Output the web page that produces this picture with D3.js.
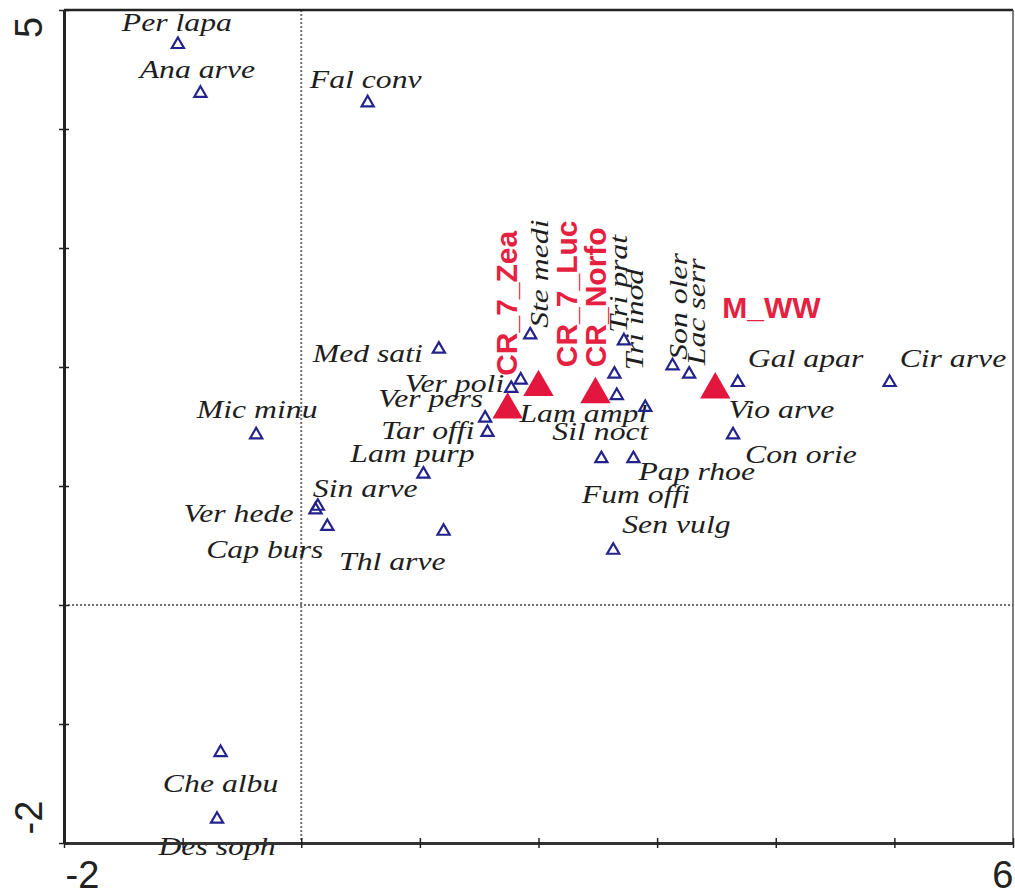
<!DOCTYPE html>
<html lang="en">
<head>
  <meta charset="UTF-8">
  <title>Ordination biplot</title>
  <script src="https://unpkg.com/d3@7/dist/d3.min.js"></script>
  <style>
    body { margin: 0; background: #fff; }
    .sp-label { font-family: "Liberation Serif", "Times New Roman", serif; font-style: italic; font-size: 26px; fill: #1e1e1e; }
    .env-label { font-family: "Liberation Sans", Arial, sans-serif; font-weight: bold; font-size: 30px; fill: #e6203f; }
    .axis text { font-family: "Liberation Sans", Arial, sans-serif; font-size: 38px; fill: #222; }
  </style>
</head>
<body>
  <svg id="chart" width="1015" height="896"></svg>
  <script>
    // species scores (axis 1, axis 2)
    const species = ['Per lapa', 'Ana arve', 'Fal conv', 'Med sati', 'Mic minu', 'Ver poli', '',
      'Ver pers', 'Tar offi', 'Lam purp', 'Sin arve', 'Ver hede', 'Cap burs', 'Thl arve',
      'Ste medi', 'Tri prat', 'Tri inod', 'Fum offi', 'Lam ampl', 'Son oler', 'Lac serr',
      'Gal apar', 'Cir arve', 'Vio arve', 'Con orie', 'Sil noct', 'Pap rhoe', 'Sen vulg',
      'Che albu', 'Des soph'];
    const speciesX = [-1.04, -0.85, 0.56, 1.16, -0.38, 1.77, 1.85,
      1.55, 1.57, 1.03, 0.14, 0.12, 0.22, 1.20,
      1.93, 2.72, 2.64, 2.66, 2.90, 3.13, 3.27,
      3.68, 4.96, 3.50, 3.64, 2.53, 2.80, 2.63,
      -0.68, -0.71];
    const speciesY = [4.71, 4.30, 4.22, 2.15, 1.43, 1.82, 1.89,
      1.57, 1.45, 1.10, 0.83, 0.80, 0.66, 0.62,
      2.27, 2.22, 1.94, 1.76, 1.66, 2.01, 1.94,
      1.87, 1.87, 1.81, 1.43, 1.23, 1.23, 0.46,
      -1.24, -1.80];

    // treatments (supplementary samples)
    const treatments = ['CR_7_Zea', 'CR_7_Luc', 'CR_Norfo', 'M_WW'];
    const treatX = [1.74, 2.00, 2.48, 3.49];
    const treatY = [1.64, 1.83, 1.77, 1.81];

    const xTicks = [-2, -1, 0, 1, 2, 3, 4, 5, 6];
    const yTicks = [-2, -1, 0, 1, 2, 3, 4, 5];
    const xTickLabels = [-2, 6];
    const yTickLabels = [-2, 5];

    // label placement: [anchor, dx, dy] in px from the point, 'rot' = vertical text
    const labelPos = {
      'Per lapa': ['middle', -1, -14], 'Ana arve': ['middle', -3, -15], 'Fal conv': ['middle', -2, -15],
      'Med sati': ['end', -16, 13], 'Mic minu': ['middle', 1, -17], 'Ver poli': ['end', -7, 4],
      'Ver pers': ['end', -2, -11], 'Tar offi': ['end', -13, 7], 'Lam purp': ['middle', -11, -12],
      'Sin arve': ['start', -5, -9], 'Ver hede': ['end', -22, 12], 'Cap burs': ['end', -4, 32],
      'Thl arve': ['end', 2, 39], 'Ste medi': ['rot', 18, -7], 'Tri prat': ['rot', 3, -8],
      'Tri inod': ['rot', 29, -4], 'Fum offi': ['start', -35, 107], 'Lam ampl': ['end', 2, 15],
      'Son oler': ['rot', 14, -6], 'Lac serr': ['rot', 16, -9], 'Gal apar': ['start', 10, -15],
      'Cir arve': ['start', 10, -15], 'Vio arve': ['start', 12, 28], 'Con orie': ['start', 12, 28],
      'Sil noct': ['middle', -1, -19], 'Pap rhoe': ['start', 5, 21], 'Sen vulg': ['start', 9, -17],
      'Che albu': ['middle', 0, 39], 'Des soph': ['middle', 0, 36]
    };
    const treatLabelPos = {
      'CR_7_Zea': ['rot', 9, -34], 'CR_7_Luc': ['rot', 38, -20],
      'CR_Norfo': ['rot', 11, -27], 'M_WW': ['start', 7, -72]
    };

    const svg = d3.select('#chart');
    const x = d3.scaleLinear().domain([-2, 6]).range([64, 1013]);
    const y = d3.scaleLinear().domain([-2, 5]).range([843, 10]);

    // zero lines
    svg.append('line')
      .attr('x1', x(0)).attr('x2', x(0)).attr('y1', y(5)).attr('y2', y(-2))
      .attr('stroke', '#707070').attr('stroke-width', 2).attr('stroke-dasharray', '2,2');
    svg.append('line')
      .attr('x1', x(-2)).attr('x2', x(6)).attr('y1', y(0)).attr('y2', y(0))
      .attr('stroke', '#707070').attr('stroke-width', 2).attr('stroke-dasharray', '2,2');

    const spData = species.map((name, i) => ({ name, x: speciesX[i], y: speciesY[i] }));
    const trData = treatments.map((name, i) => ({ name, x: treatX[i], y: treatY[i] }));

    const smallTri = d3.symbol().type(d3.symbolTriangle).size(64);
    const bigTri = d3.symbol().type(d3.symbolTriangle).size(400);

    const placeLabel = (d, pos, stretch) => {
      const [anchor, dx, dy] = pos;
      const rot = anchor === 'rot' ? ' rotate(-90)' : '';
      return `translate(${x(d.x) + dx}, ${y(d.y) + dy})${rot} scale(${stretch}, 1)`;
    };

    svg.append('g').selectAll('text').data(spData.filter(d => d.name))
      .enter().append('text')
        .attr('class', 'sp-label')
        .attr('text-anchor', d => labelPos[d.name][0] === 'rot' ? 'start' : labelPos[d.name][0])
        .attr('transform', d => placeLabel(d, labelPos[d.name], 1.22))
        .text(d => d.name);

    svg.append('g').selectAll('path').data(spData)
      .enter().append('path')
        .attr('d', smallTri)
        .attr('transform', d => `translate(${x(d.x)}, ${y(d.y)})`)
        .attr('fill', 'none')
        .attr('stroke', '#23238c')
        .attr('stroke-width', 2.2);

    svg.append('g').selectAll('path').data(trData)
      .enter().append('path')
        .attr('d', bigTri)
        .attr('transform', d => `translate(${x(d.x)}, ${y(d.y)})`)
        .attr('fill', '#e3173e');

    svg.append('g').selectAll('text').data(trData)
      .enter().append('text')
        .attr('class', 'env-label')
        .attr('text-anchor', 'start')
        .attr('transform', d => placeLabel(d, treatLabelPos[d.name], 1))
        .text(d => d.name);

    // frame: top and right
    svg.append('line')
      .attr('x1', x(-2)).attr('x2', x(6)).attr('y1', y(5)).attr('y2', y(5))
      .attr('stroke', '#222').attr('stroke-width', 2.5);
    svg.append('line')
      .attr('x1', x(6)).attr('x2', x(6)).attr('y1', y(5)).attr('y2', y(-2))
      .attr('stroke', '#555').attr('stroke-width', 1.5);

    // bottom axis
    const xAxis = d3.axisBottom(x)
      .tickValues(xTicks)
      .tickSize(5)
      .tickSizeOuter(0)
      .tickFormat(d => xTickLabels.includes(d) ? d : '');
    const gx = svg.append('g')
      .attr('class', 'axis')
      .attr('transform', `translate(0, ${y(-2)})`)
      .call(xAxis);
    gx.select('.domain').attr('stroke', '#333').attr('stroke-width', 3);
    gx.selectAll('.tick line').attr('y1', -5).attr('y2', 5).attr('stroke', '#222').attr('stroke-width', 1.5);
    gx.selectAll('.tick text')
      .attr('y', 45).attr('dy', null)
      .attr('text-anchor', d => d === 6 ? 'end' : 'start')
      .attr('x', d => d === 6 ? 0 : 1);

    // left axis
    const yAxis = d3.axisLeft(y)
      .tickValues(yTicks)
      .tickSize(5)
      .tickSizeOuter(0)
      .tickFormat(d => yTickLabels.includes(d) ? d : '');
    const gy = svg.append('g')
      .attr('class', 'axis')
      .attr('transform', `translate(${x(-2)}, 0)`)
      .call(yAxis);
    gy.select('.domain').attr('stroke', '#222').attr('stroke-width', 3);
    gy.selectAll('.tick line').attr('x1', -5).attr('x2', 5).attr('stroke', '#222').attr('stroke-width', 1.5);
    gy.selectAll('.tick text')
      .attr('x', null).attr('dy', null)
      .attr('text-anchor', 'middle')
      .attr('transform', d => `translate(-22, ${d === 5 ? 17 : -26}) rotate(-90)`);
  </script>
</body>
</html>
